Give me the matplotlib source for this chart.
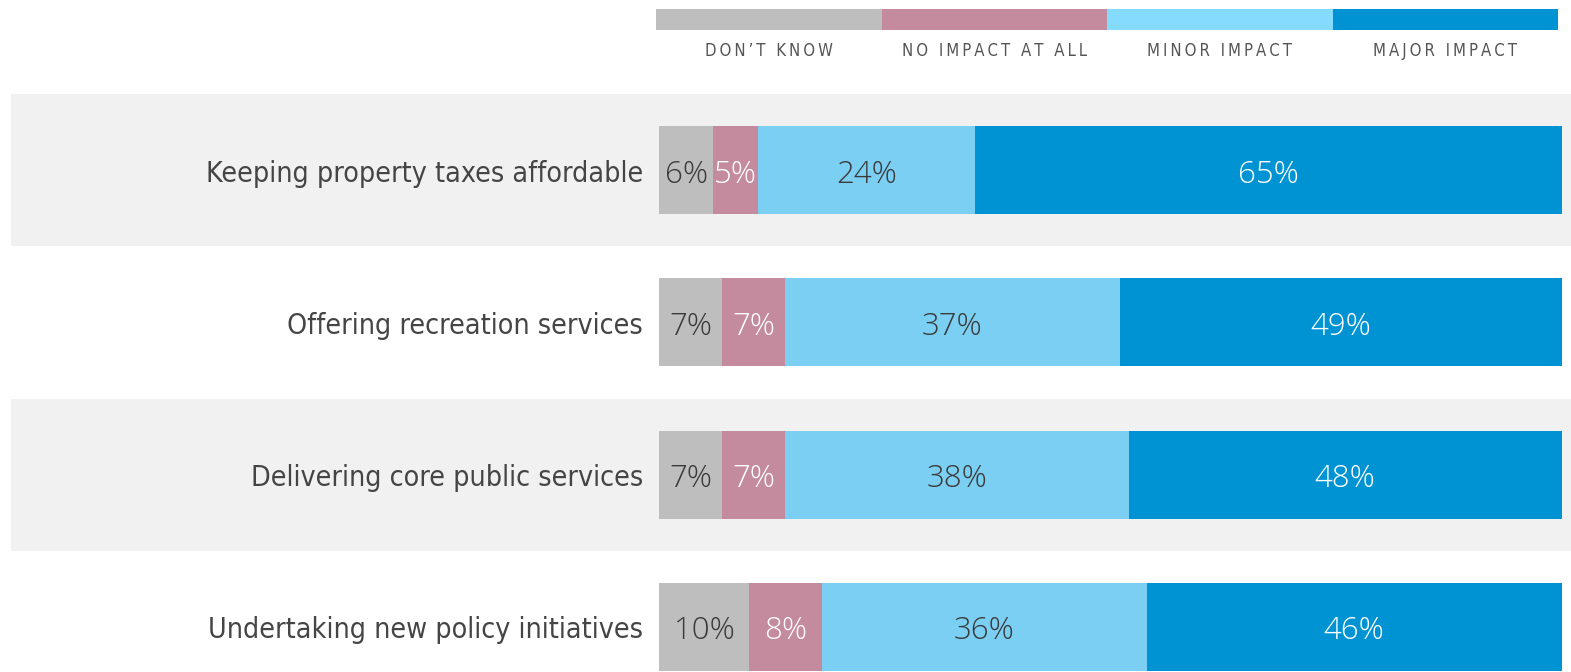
import matplotlib
matplotlib.use("Agg")
import matplotlib.pyplot as plt
from matplotlib.patches import Rectangle
import matplotlib.transforms as mtransforms

categories = ["Keeping property taxes affordable",
              "Offering recreation services",
              "Delivering core public services",
              "Undertaking new policy initiatives"]
series_names = ["DON\u2019T KNOW", "NO IMPACT AT ALL", "MINOR IMPACT", "MAJOR IMPACT"]
dont_know = [6, 7, 7, 10]
no_impact = [5, 7, 7, 8]
minor_impact = [24, 37, 38, 36]
major_impact = [65, 49, 48, 46]

bar_colors = ["#BEBEBE", "#C48A9D", "#7BCFF3", "#0093D3"]
legend_colors = ["#BEBEBE", "#C48A9D", "#85DBFE", "#0093D3"]
text_colors = ["#3A3A3A", "#FFFFFF", "#3A3A3A", "#FFFFFF"]

W, H = 1571, 672
fig = plt.figure(figsize=(W / 100, H / 100), dpi=100)

def fx(px):
    return px / W

def fy(py):
    return 1 - py / H

# main axes: bars span x 659..1562 px
ax = fig.add_axes([fx(659), fy(672), fx(1562) - fx(659), fy(93) - fy(672)])
ax.set_xlim(0, 100)
row0, spacing = 170.5, 152.0
ax.set_ylim((672 - row0) / spacing, (93 - row0) / spacing)
ax.axis("off")
ax.set_zorder(2)
ax.patch.set_visible(False)

series = [dont_know, no_impact, minor_impact, major_impact]
ys = list(range(len(categories)))

# alternating background bands
bt = mtransforms.blended_transform_factory(fig.transFigure, ax.transData)
for i in ys:
    if i % 2 == 0:
        fig.patches.append(Rectangle((fx(11), i - 0.5), 1 - fx(11), 1.0,
                                     transform=bt, facecolor="#F1F1F1",
                                     edgecolor="none", zorder=-5))

pct_font = dict(family=["Open Sans", "DejaVu Sans"], fontsize=22.5, fontweight="light")
pct_off = 12.5 / spacing
left = [0] * len(categories)
for s, vals in enumerate(series):
    ax.barh(ys, vals, left=left, height=88 / spacing, color=bar_colors[s],
            edgecolor="none", zorder=2)
    for i, v in enumerate(vals):
        ax.text(left[i] + v / 2, i + pct_off, f"{v}%", ha="center", va="baseline",
                color=text_colors[s], zorder=3, **pct_font)
    left = [l + v for l, v in zip(left, vals)]

lab_off = 11.5 / spacing
for i, c in enumerate(categories):
    ax.text(fx(643), i + lab_off, c, transform=bt, ha="right", va="baseline",
            color="#454545", fontsize=20.5, family="DejaVu Sans", fontstretch="condensed")

# legend strip
lax = fig.add_axes([fx(656), fy(30), fx(1558) - fx(656), fy(9) - fy(30)])
lax.set_xlim(0, len(series_names))
lax.set_ylim(0, 1)
lax.axis("off")
lt = mtransforms.blended_transform_factory(lax.transData, fig.transFigure)
for k, name in enumerate(series_names):
    lax.add_patch(Rectangle((k, 0), 1, 1, facecolor=legend_colors[k], edgecolor="none"))
    spaced = "\u2009".join(name)
    lax.text(k + 0.5, fy(56), spaced, transform=lt,
             ha="center", va="baseline", color="#555555", fontsize=12,
             family="DejaVu Sans", fontstretch="condensed")

fig.savefig("out.png", dpi=100, facecolor="white")
